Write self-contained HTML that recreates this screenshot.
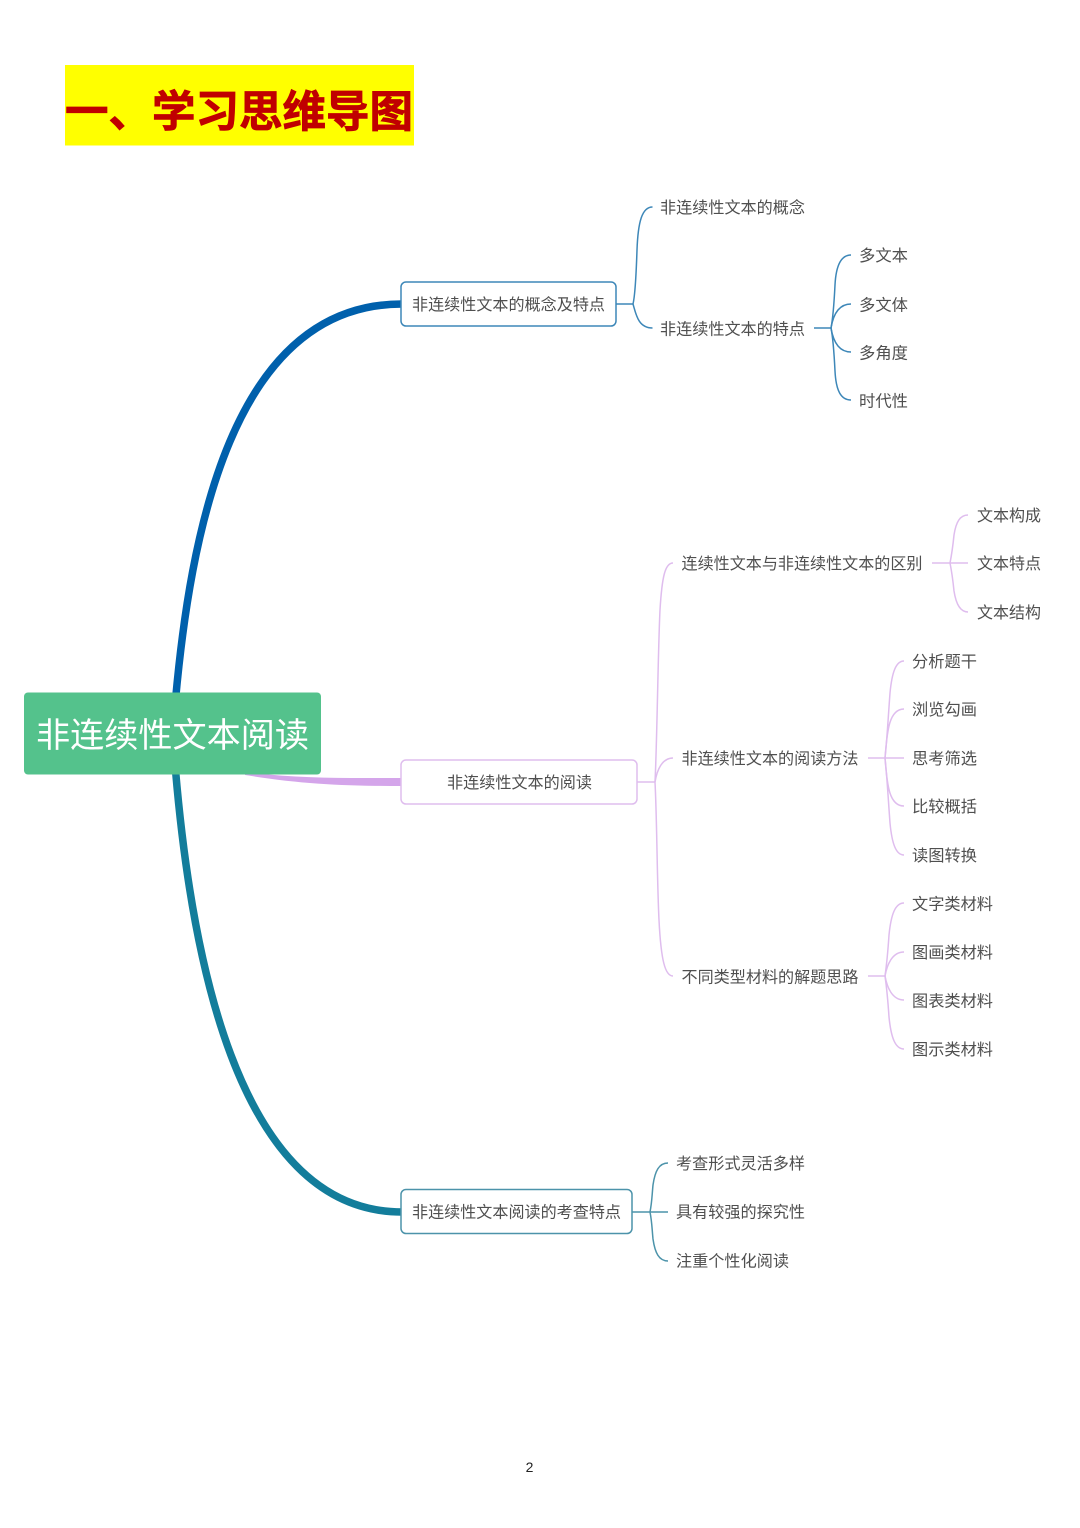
<!DOCTYPE html>
<html lang="zh-CN">
<head>
<meta charset="utf-8">
<title>一、学习思维导图</title>
<style>
html,body{margin:0;padding:0;background:#fff;width:1080px;height:1528px;overflow:hidden}
svg{display:block;filter:blur(0.35px)}
text{font-family:"Liberation Sans","Noto Sans CJK SC",sans-serif}
.t{font-size:16px;fill:#4f4f4f}
.b{fill:none;stroke:#3d87b8;stroke-width:1.5}
.p{fill:none;stroke:#dfbdee;stroke-width:1.5}
.g{fill:none;stroke:#4c93aa;stroke-width:1.5}
</style>
</head>
<body>
<svg width="1080" height="1528" viewBox="0 0 1080 1528" xmlns="http://www.w3.org/2000/svg">
<rect width="1080" height="1528" fill="#fff"/>

<!-- Title -->
<rect x="65" y="65" width="349" height="80.500" fill="#ffff00"/>
<text x="65" y="127" font-size="43.500" font-weight="700" fill="#c00000" stroke="#c00000" stroke-width="0.800" textLength="348" lengthAdjust="spacingAndGlyphs">一、学习思维导图</text>

<!-- Main curves -->
<path d="M175.500,700 C190,540 230,304 402,304" fill="none" stroke="#0060ac" stroke-width="7.500"/>
<path d="M175.500,770 C190,940 233,1212 402,1212" fill="none" stroke="#137d9b" stroke-width="7.500"/>
<path d="M245,772 C300,779 345,778 402,778 V786 C345,786 300,784 245,775 Z" fill="#d4a5ea"/>

<!-- Blue branches -->
<g class="b">
<path d="M616,304 H633"/>
<path d="M633,304 C635,296 636,280 637,250 C638,222 642,207 652.500,207"/>
<path d="M633,304 C636,314 638,328 652.500,328"/>
<path d="M814,328 H831"/>
<path d="M831,328 C833,318 834,305 835,285 C836,265 841,255 851,255"/>
<path d="M831,328 C833,316 838,304 851,304"/>
<path d="M831,328 C833,340 838,352 851,352"/>
<path d="M831,328 C833,338 834,351 835,371 C836,391 841,400 851,400"/>
</g>

<!-- Purple branches -->
<g class="p">
<path d="M637,782 H655"/>
<path d="M655,782 C657,745 658,650 660,610 C662,577 665,563 673,563"/>
<path d="M655,782 C657,770 662,758 673,758"/>
<path d="M655,782 C657,820 657,880 659,920 C661,960 665,976 673,976"/>
<path d="M932,563 H968"/>
<path d="M950,563 C952,553 953,545 954,535 C956,522 960,515 968,515"/>
<path d="M950,563 C952,573 953,581 954,591 C956,604 960,612 968,612"/>
<path d="M868,758 H904"/>
<path d="M885,758 C887,740 888,720 890,693 C892,672 896,661 904,661"/>
<path d="M885,758 C887,735 888,709 904,709"/>
<path d="M885,758 C887,781 888,806 904,806"/>
<path d="M885,758 C887,776 888,796 890,823 C892,844 896,855 904,855"/>
<path d="M868,976 H885"/>
<path d="M885,976 C887,962 888,950 889,935 C891,915 895,903 904,903"/>
<path d="M885,976 C887,965 892,952 904,952"/>
<path d="M885,976 C887,987 892,1000 904,1000"/>
<path d="M885,976 C887,990 888,1002 889,1017 C891,1037 895,1049 904,1049"/>
</g>

<!-- Teal branches -->
<g class="g">
<path d="M632,1212 H668"/>
<path d="M650,1212 C652,1202 652,1195 653,1185 C655,1171 659,1163 668,1163"/>
<path d="M650,1212 C652,1222 652,1229 653,1239 C655,1253 659,1261 668,1261"/>
</g>

<!-- Root -->
<rect x="24" y="692.500" width="297" height="82" rx="4" fill="#54c28c"/>
<text x="36" y="747" font-size="34.200" fill="#fff" textLength="273" lengthAdjust="spacingAndGlyphs">非连续性文本阅读</text>

<!-- Level-1 nodes -->
<rect x="401" y="282" width="215" height="44" rx="5" fill="#fff" stroke="#3d87b8" stroke-width="1.500"/>
<text class="t" x="412" y="310" textLength="193" lengthAdjust="spacingAndGlyphs">非连续性文本的概念及特点</text>
<rect x="401" y="760" width="236" height="44" rx="5" fill="#fff" stroke="#dfbdee" stroke-width="1.500"/>
<text class="t" x="447" y="788" textLength="145" lengthAdjust="spacingAndGlyphs">非连续性文本的阅读</text>
<rect x="401" y="1189.500" width="231" height="44" rx="5" fill="#fff" stroke="#4c93aa" stroke-width="1.500"/>
<text class="t" x="412" y="1217.500" textLength="209" lengthAdjust="spacingAndGlyphs">非连续性文本阅读的考查特点</text>

<!-- Labels -->
<text class="t" x="660" y="213" textLength="145" lengthAdjust="spacingAndGlyphs">非连续性文本的概念</text>
<text class="t" x="660" y="334.500" textLength="145" lengthAdjust="spacingAndGlyphs">非连续性文本的特点</text>
<text class="t" x="859" y="261" textLength="49" lengthAdjust="spacingAndGlyphs">多文本</text>
<text class="t" x="859" y="310.500" textLength="49" lengthAdjust="spacingAndGlyphs">多文体</text>
<text class="t" x="859" y="358.500" textLength="49" lengthAdjust="spacingAndGlyphs">多角度</text>
<text class="t" x="859" y="406.500" textLength="49" lengthAdjust="spacingAndGlyphs">时代性</text>

<text class="t" x="681.500" y="569" textLength="241" lengthAdjust="spacingAndGlyphs">连续性文本与非连续性文本的区别</text>
<text class="t" x="977" y="521" textLength="64" lengthAdjust="spacingAndGlyphs">文本构成</text>
<text class="t" x="977" y="569" textLength="64" lengthAdjust="spacingAndGlyphs">文本特点</text>
<text class="t" x="977" y="618" textLength="64" lengthAdjust="spacingAndGlyphs">文本结构</text>

<text class="t" x="681.500" y="764" textLength="177" lengthAdjust="spacingAndGlyphs">非连续性文本的阅读方法</text>
<text class="t" x="912" y="667" textLength="65" lengthAdjust="spacingAndGlyphs">分析题干</text>
<text class="t" x="912" y="715" textLength="65" lengthAdjust="spacingAndGlyphs">浏览勾画</text>
<text class="t" x="912" y="764" textLength="65" lengthAdjust="spacingAndGlyphs">思考筛选</text>
<text class="t" x="912" y="812" textLength="65" lengthAdjust="spacingAndGlyphs">比较概括</text>
<text class="t" x="912" y="861" textLength="65" lengthAdjust="spacingAndGlyphs">读图转换</text>

<text class="t" x="681.500" y="982.500" textLength="177" lengthAdjust="spacingAndGlyphs">不同类型材料的解题思路</text>
<text class="t" x="912" y="909.500" textLength="81" lengthAdjust="spacingAndGlyphs">文字类材料</text>
<text class="t" x="912" y="958" textLength="81" lengthAdjust="spacingAndGlyphs">图画类材料</text>
<text class="t" x="912" y="1006.500" textLength="81" lengthAdjust="spacingAndGlyphs">图表类材料</text>
<text class="t" x="912" y="1055" textLength="81" lengthAdjust="spacingAndGlyphs">图示类材料</text>

<text class="t" x="676" y="1169" textLength="129" lengthAdjust="spacingAndGlyphs">考查形式灵活多样</text>
<text class="t" x="676" y="1217.500" textLength="129" lengthAdjust="spacingAndGlyphs">具有较强的探究性</text>
<text class="t" x="676" y="1266.500" textLength="113" lengthAdjust="spacingAndGlyphs">注重个性化阅读</text>

<!-- Page number -->
<text x="529.500" y="1472" font-size="14" fill="#222" text-anchor="middle">2</text>
</svg>
</body>
</html>
